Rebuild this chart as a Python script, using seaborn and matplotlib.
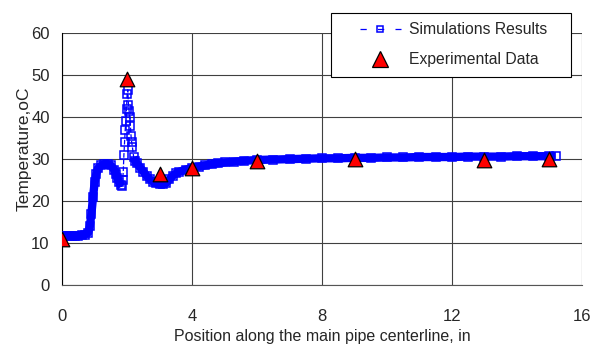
import numpy as np
import pandas as pd
import matplotlib
matplotlib.use('Agg')
import matplotlib.pyplot as plt
from matplotlib.lines import Line2D
from matplotlib.legend_handler import HandlerLine2D
import seaborn as sns

# simulation results along the centerline
sim_x = [0.0, 0.1, 0.2, 0.3, 0.4, 0.5, 0.6, 0.7, 0.8, 0.85, 0.9, 0.95, 1.0, 1.05,
         1.1, 1.2, 1.3, 1.4, 1.5, 1.6, 1.65, 1.7, 1.75, 1.8, 1.83,
         1.86, 1.88, 1.9, 1.92, 1.94, 1.96, 1.98, 2.0, 2.02, 2.04, 2.06, 2.08,
         2.1, 2.12, 2.14, 2.16, 2.2,
         2.25, 2.3, 2.4, 2.5, 2.6, 2.7, 2.8, 2.9, 3.0, 3.1, 3.2, 3.3, 3.4, 3.5,
         3.6, 3.8, 4.0, 4.2, 4.4, 4.6, 4.8, 5.0, 5.3, 5.6, 6.0, 6.5, 7.0, 7.5,
         8.0, 8.5, 9.0, 9.5, 10.0, 10.5, 11.0, 11.5, 12.0, 12.5, 13.0, 13.5,
         14.0, 14.5, 15.0, 15.2]
sim_y = [11.8, 11.8, 11.8, 11.8, 11.8, 11.8, 11.9, 12.0, 12.5, 14.0, 17.0, 21.0, 24.5, 26.5,
         27.8, 28.5, 28.8, 28.8, 28.5, 27.5, 26.5, 25.5, 24.5, 23.8, 23.5,
         25.0, 27.0, 31.0, 34.0, 37.0, 39.0, 42.0, 45.5, 46.5, 43.0, 41.5, 40.0,
         38.0, 35.5, 34.0, 33.0, 30.5,
         29.5, 29.0, 28.0, 27.0, 26.0, 25.2, 24.6, 24.2, 24.0, 24.0, 24.3, 25.2, 26.0, 26.6,
         27.0, 27.5, 27.9, 28.2, 28.5, 28.8, 29.0, 29.2, 29.4, 29.6, 29.8, 29.9, 30.0, 30.1,
         30.2, 30.2, 30.3, 30.3, 30.4, 30.4, 30.5, 30.5, 30.5, 30.6, 30.6, 30.6,
         30.7, 30.7, 30.7, 30.7]

# experimental measurements
exp_x = [0, 2, 3, 4, 6, 9, 13, 15]
exp_y = [11, 49, 26.5, 28, 29.5, 30, 29.8, 30]

sim = pd.DataFrame({'x': sim_x, 'y': sim_y})
exp = pd.DataFrame({'x': exp_x, 'y': exp_y})
# dense mesh region drawn as a solid band, the sparse spike only as markers
sim['band'] = sim['y'].where((sim['x'] < 1.85) | (sim['x'] > 2.18))


class ShortLine(HandlerLine2D):
    # legend line shorter than the handle box, marker in the middle
    def get_xdata(self, legend, xdescent, ydescent, width, height, fontsize):
        pad = 1.25 * fontsize
        return [-xdescent + pad, width - xdescent - pad], [0.5 * width - xdescent]


sns.set_style('white')
plt.rcParams['font.family'] = ['Liberation Sans', 'DejaVu Sans']

fig, ax = plt.subplots(figsize=(5.98, 3.56), dpi=100)
fig.subplots_adjust(left=0.104, right=0.973, top=0.907, bottom=0.199)

ax.plot(sim['x'], sim['band'], color='#0000FF', lw=6, solid_capstyle='butt', zorder=2)
sns.lineplot(x='x', y='y', data=sim, ax=ax, estimator=None, sort=False,
             color='#0000FF', linestyle='--', lw=0.9, marker='s', markersize=5.5,
             markerfacecolor='none', markeredgecolor='#0000FF', markeredgewidth=1.1,
             zorder=3)
sns.scatterplot(x='x', y='y', data=exp, ax=ax, marker='^', s=110, color='#FF0000',
                edgecolor='black', linewidth=0.9, zorder=4)

ax.set_xlim(0, 16)
ax.set_ylim(0, 60)
ax.set_xticks([0, 4, 8, 12, 16])
ax.set_yticks(range(0, 61, 10))
ax.grid(True, color='#404040', lw=0.8)
for s in ['top', 'right']:
    ax.spines[s].set_visible(False)
ax.spines['left'].set_color('black')
ax.spines['bottom'].set_color('#555555')
ax.tick_params(axis='x', direction='out', length=5, width=0.8, pad=12, labelsize=12, color='#555555')
ax.tick_params(axis='y', direction='out', length=5, width=0.8, pad=4, labelsize=12)
ax.set_axisbelow(True)

ax.set_xlabel('Position along the main pipe centerline, in', fontsize=11.5, labelpad=4)
ax.set_ylabel('Temperature,oC', fontsize=12.5)
ax.yaxis.set_label_coords(-0.058, 0.54)

handles = [
    Line2D([], [], color='#0000FF', linestyle=(0, (5, 9)), lw=0.9, marker='s', markersize=5,
           markerfacecolor='none', markeredgewidth=1.1),
    Line2D([], [], color='#FF0000', marker='^', linestyle='none', markersize=11,
           markeredgecolor='black', markeredgewidth=0.9),
]
leg = fig.legend(handles, ['Simulations Results', 'Experimental Data'],
                 loc='upper left', bbox_to_anchor=(331 / 598, 0.78, 240 / 598, 1 - 13 / 356 - 0.78),
                 mode='expand', frameon=True,
                 fancybox=False, edgecolor='black', framealpha=1,
                 prop={'size': 11.3}, handlelength=5.1, handletextpad=-0.75,
                 borderpad=0.6, labelspacing=0.95, borderaxespad=0,
                 handler_map={Line2D: ShortLine()})
leg.get_frame().set_linewidth(0.8)

fig.savefig('out.png', dpi=100)
